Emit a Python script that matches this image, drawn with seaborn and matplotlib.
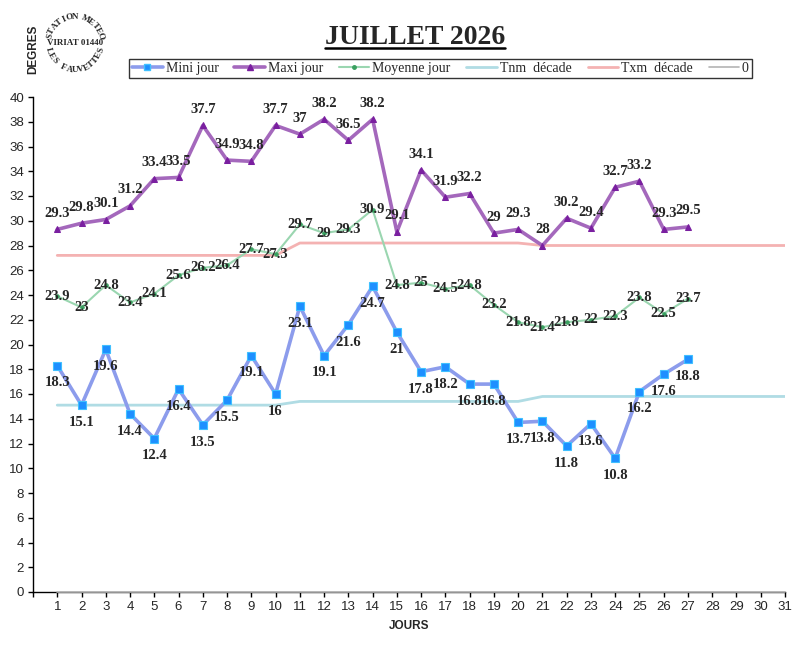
import numpy as np
import matplotlib
matplotlib.use("Agg")
import matplotlib.pyplot as plt
from matplotlib.lines import Line2D
import pandas as pd
import seaborn as sns

# data
days = list(range(1, 28))
mini_jour = [18.3, 15.1, 19.6, 14.4, 12.4, 16.4, 13.5, 15.5, 19.1, 16, 23.1, 19.1, 21.6, 24.7,
             21, 17.8, 18.2, 16.8, 16.8, 13.7, 13.8, 11.8, 13.6, 10.8, 16.2, 17.6, 18.8]
maxi_jour = [29.3, 29.8, 30.1, 31.2, 33.4, 33.5, 37.7, 34.9, 34.8, 37.7, 37, 38.2, 36.5, 38.2,
             29.1, 34.1, 31.9, 32.2, 29, 29.3, 28, 30.2, 29.4, 32.7, 33.2, 29.3, 29.5]
moyenne_jour = [23.9, 23, 24.8, 23.4, 24.1, 25.6, 26.2, 26.4, 27.7, 27.3, 29.7, 29, 29.3, 30.9,
                24.8, 25, 24.5, 24.8, 23.2, 21.8, 21.4, 21.8, 22, 22.3, 23.8, 22.5, 23.7]
all_days = list(range(1, 32))
tnm_decade = [15.1] * 10 + [15.4] * 10 + [15.8] * 11
txm_decade = [27.2] * 10 + [28.2] * 10 + [28.0] * 11
zero_line = [0] * 31

daily = pd.DataFrame({"jour": days, "mini": mini_jour, "maxi": maxi_jour, "moy": moyenne_jour})
decade = pd.DataFrame({"jour": all_days, "tnm": tnm_decade, "txm": txm_decade, "zero": zero_line})

sns.set_style("ticks")
plt.rcParams["font.family"] = ["Liberation Sans", "DejaVu Sans"]
serif = ["Liberation Serif", "DejaVu Serif"]

W, H = 801, 651
fig = plt.figure(figsize=(W / 100, H / 100), dpi=100)
ax = fig.add_axes([33 / W, 1 - 592 / H, (785 - 33) / W, (592 - 97) / H])

c_mini, c_mini_m = "#8c9cec", "#1e8fff"
c_maxi, c_maxi_m = "#a468bc", "#7a1fa0"
c_moy, c_moy_m = "#9ad6b0", "#3aa060"
c_tnm, c_txm, c_zero = "#b0dce4", "#f4b2b2", "#b4b4b4"

sns.lineplot(data=decade, x="jour", y="tnm", ax=ax, color=c_tnm, linewidth=2, zorder=2)
sns.lineplot(data=decade, x="jour", y="txm", ax=ax, color=c_txm, linewidth=2, zorder=2)
sns.lineplot(data=decade, x="jour", y="zero", ax=ax, color=c_zero, linewidth=1.2, zorder=3,
             clip_on=False)
sns.lineplot(data=daily, x="jour", y="moy", ax=ax, color=c_moy, linewidth=1.5, zorder=3,
             marker="o", markersize=2.5, markerfacecolor=c_moy_m, markeredgecolor=c_moy_m)
sns.lineplot(data=daily, x="jour", y="mini", ax=ax, color=c_mini, linewidth=2.6, zorder=4,
             marker="s", markersize=5.5, markerfacecolor=c_mini_m, markeredgecolor="#40c0ff",
             markeredgewidth=0.8)
sns.lineplot(data=daily, x="jour", y="maxi", ax=ax, color=c_maxi, linewidth=2.6, zorder=4,
             marker="^", markersize=5, markerfacecolor=c_maxi_m, markeredgecolor=c_maxi_m)

lab_kw = dict(textcoords="offset points", ha="center", va="center", fontsize=10.5,
              fontweight="bold", family=serif, zorder=6)
for d, v in zip(days, mini_jour):
    ax.annotate(f"{v:g}", (d, v), xytext=(0, -12.5), **lab_kw)
for d, v in zip(days, maxi_jour):
    ax.annotate(f"{v:g}", (d, v), xytext=(0, 11.5), **lab_kw)
for d, v in zip(days, moyenne_jour):
    ax.annotate(f"{v:g}", (d, v), xytext=(0, 0), **lab_kw)

ax.set_xlim(0, 31)
ax.set_ylim(0, 40)
ax.set_xticks(range(0, 32))
ax.set_xticklabels([""] + [str(i) for i in range(1, 32)])
ax.set_yticks(range(0, 41, 2))
ax.tick_params(axis="both", direction="out", length=3.5, width=1, color="black",
               labelsize=9.5, pad=3)
for s in ["top", "right"]:
    ax.spines[s].set_visible(False)
for s in ["left", "bottom"]:
    ax.spines[s].set_color("black")
    ax.spines[s].set_linewidth(1)
ax.set_ylabel("")
ax.set_xlabel("JOURS", fontsize=8.5, fontweight="bold",
              family=["Liberation Sans Narrow", "Liberation Sans"], labelpad=5)

# legend
handles = [
    Line2D([], [], color=c_mini, lw=2.6, marker="s", ms=5, mfc=c_mini_m, mec="#40c0ff"),
    Line2D([], [], color=c_maxi, lw=2.6, marker="^", ms=5, mfc=c_maxi_m, mec=c_maxi_m),
    Line2D([], [], color=c_moy, lw=1.5, marker="o", ms=2.5, mfc=c_moy_m, mec=c_moy_m),
    Line2D([], [], color=c_tnm, lw=2),
    Line2D([], [], color=c_txm, lw=2),
    Line2D([], [], color=c_zero, lw=1.2),
]
names = ["Mini jour", "Maxi jour", "Moyenne jour", "Tnm  décade", "Txm  décade", "0"]
leg = fig.legend(handles, names, loc="center", bbox_to_anchor=(440.5 / W, 1 - 68.5 / H),
                 ncol=6, frameon=True, fancybox=False, edgecolor="black", handlelength=2.2,
                 handletextpad=0.2, columnspacing=1.15, borderpad=0.25, borderaxespad=0,
                 prop={"family": serif, "size": 10})
leg.get_frame().set_linewidth(1)

# title with underline
title = fig.text(415 / W, 1 - 44 / H, "JUILLET 2026", ha="center", va="baseline",
                 fontsize=20, fontweight="bold", family=serif)
fig.canvas.draw()
bb = title.get_window_extent()
fig.add_artist(Line2D([bb.x0 / W, bb.x1 / W], [1 - 47.5 / H] * 2, color="black",
                      lw=1.8, transform=fig.transFigure))

# "DEGRES" + station stamp
fig.text(33 / W, 1 - 49 / H, "DEGRES", rotation=90, ha="center", va="center", fontsize=8.5,
         fontweight="bold", family=["Liberation Sans Narrow", "Liberation Sans"])

cx, cy = 75, H - 43


def arc_text(s, a0, a1, radius, bottom=False):
    for ch, a in zip(s, np.radians(np.linspace(a0, a1, len(s)))):
        x = cx + radius * np.cos(a)
        y = cy + radius * np.sin(a)
        rot = np.degrees(a) + (90 if bottom else -90)
        fig.text(x / W, y / H, ch, rotation=rot, rotation_mode="anchor", ha="center",
                 va="center", fontsize=6.5, fontweight="bold", family=serif)


arc_text("STATION METEO", 165, 15, 26)
arc_text("LES FAUVETTES", 195, 345, 27, bottom=True)
fig.text(cx / W, cy / H, "VIRIAT 01440", ha="center", va="center", fontsize=6.5,
         fontweight="bold", family=serif)

fig.savefig("out.png", dpi=100)
